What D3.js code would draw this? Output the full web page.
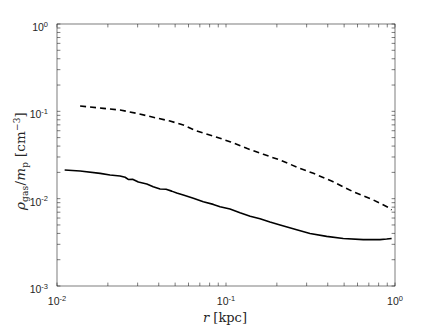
<!DOCTYPE html>
<html>
<head>
<meta charset="utf-8">
<script src="https://cdn.jsdelivr.net/npm/d3@7"></script>
<style>
  body { margin: 0; background: #fff; }
  svg { display: block; }
  .tick-label { font-family: "Liberation Sans", Arial, sans-serif; font-size: 10.5px; fill: #262626; }
  .axis-title { font-family: "DejaVu Serif", "Liberation Serif", serif; fill: #262626; }
</style>
</head>
<body>
<div id="chart"></div>
<script>
// radius in kpc, density in cm^-3
const solidR = [0.0111, 0.0137, 0.0180, 0.0206, 0.0236, 0.0253, 0.0264, 0.0280, 0.0303, 0.0340,
                0.0371, 0.0407, 0.0442, 0.0477, 0.0511, 0.0559, 0.0641, 0.0734, 0.0841, 0.0922,
                0.1056, 0.121, 0.139, 0.159, 0.182, 0.209, 0.262, 0.314, 0.394, 0.494,
                0.649, 0.815, 0.893, 0.955];
const solidRho = [0.0213, 0.0207, 0.0195, 0.0187, 0.0182, 0.0176, 0.0166, 0.0167, 0.0155, 0.0147,
                  0.0137, 0.0129, 0.0128, 0.0122, 0.0116, 0.0110, 0.0101, 0.0092, 0.0086, 0.0081,
                  0.0076, 0.0069, 0.0063, 0.0059, 0.0054, 0.0050, 0.0044, 0.0040, 0.0037, 0.0035,
                  0.0034, 0.0034, 0.00345, 0.0035];

const dashedR = [0.0137, 0.0188, 0.0236, 0.0296, 0.0371, 0.0466, 0.0559, 0.0671, 0.0841, 0.1056,
                 0.1326, 0.1663, 0.2087, 0.268, 0.329, 0.431, 0.566, 0.744, 0.934, 0.955];
const dashedRho = [0.115, 0.108, 0.1036, 0.0949, 0.0855, 0.0775, 0.0697, 0.0595, 0.0522, 0.0449,
                   0.0377, 0.0322, 0.0277, 0.0226, 0.0195, 0.0156, 0.0120, 0.00966, 0.00776, 0.00741];

const xMajor = [0.01, 0.1, 1];
const xMajorExp = ["-2", "-1", "0"];
const yMajor = [0.001, 0.01, 0.1, 1];
const yMajorExp = ["-3", "-2", "-1", "0"];

const W = 436, H = 327;
const margin = {top: 24, right: 41, bottom: 41, left: 57};
const width = W - margin.left - margin.right,
      height = H - margin.top - margin.bottom;

const svg = d3.select("#chart").append("svg")
  .attr("width", W).attr("height", H);

const g = svg.append("g")
  .attr("transform", `translate(${margin.left},${margin.top})`);

const x = d3.scaleLog().domain([0.01, 1]).range([0, width]);
const y = d3.scaleLog().domain([0.001, 1]).range([height, 0]);

// minor tick positions (2..9 in each decade)
const minorOf = (lo, hi) => {
  const out = [];
  for (let e = Math.log10(lo); e < Math.log10(hi); e++) {
    for (let k = 2; k <= 9; k++) out.push(k * Math.pow(10, e));
  }
  return out;
};
const xMinor = minorOf(0.01, 1);
const yMinor = minorOf(0.001, 1);

const axisColor = "#262626";
const tl = 3.4;

// data lines
const line = d3.line().x(d => x(d[0])).y(d => y(d[1]));
g.append("path")
  .datum(solidR.map((r, i) => [r, solidRho[i]]))
  .attr("d", line)
  .attr("fill", "none").attr("stroke", "#000").attr("stroke-width", 1.6)
  .attr("stroke-linejoin", "round");
g.append("path")
  .datum(dashedR.map((r, i) => [r, dashedRho[i]]))
  .attr("d", line)
  .attr("fill", "none").attr("stroke", "#000").attr("stroke-width", 1.6)
  .attr("stroke-dasharray", "6,4");

// box
g.append("rect")
  .attr("width", width).attr("height", height)
  .attr("fill", "none").attr("stroke", axisColor).attr("stroke-width", 0.6);

// ticks on all four sides, pointing inward
const ticks = g.append("g").attr("stroke", axisColor).attr("stroke-width", 0.6);
xMajor.concat(xMinor).forEach(v => {
  const px = x(v);
  ticks.append("line").attr("x1", px).attr("x2", px).attr("y1", height).attr("y2", height - tl);
  ticks.append("line").attr("x1", px).attr("x2", px).attr("y1", 0).attr("y2", tl);
});
yMajor.concat(yMinor).forEach(v => {
  const py = y(v);
  ticks.append("line").attr("y1", py).attr("y2", py).attr("x1", 0).attr("x2", tl);
  ticks.append("line").attr("y1", py).attr("y2", py).attr("x1", width).attr("x2", width - tl);
});

// tick labels
xMajor.forEach((v, i) => {
  const t = g.append("text").attr("class", "tick-label")
    .attr("x", x(v)).attr("y", height + 19).attr("text-anchor", "middle");
  t.append("tspan").text("10");
  t.append("tspan").attr("dy", -4.5).style("font-size", "7.5px").text(xMajorExp[i]);
});
yMajor.forEach((v, i) => {
  const t = g.append("text").attr("class", "tick-label")
    .attr("x", -9).attr("y", y(v) + 7).attr("text-anchor", "end");
  t.append("tspan").text("10");
  t.append("tspan").attr("dy", -4.5).style("font-size", "7.5px").text(yMajorExp[i]);
});

// axis titles
const xt = svg.append("text").attr("class", "axis-title")
  .style("font-size", "13px")
  .attr("x", margin.left + width / 2 - 1).attr("y", H - 5).attr("text-anchor", "middle");
xt.append("tspan").style("font-style", "italic").text("r");
xt.append("tspan").text(" [kpc]");

const yt = svg.append("text").attr("class", "axis-title")
  .style("font-size", "13.5px")
  .style("letter-spacing", "0.2px")
  .attr("transform", `translate(25,161) rotate(-90)`)
  .attr("text-anchor", "middle");
yt.append("tspan").style("font-style", "italic").text("ρ");
yt.append("tspan").attr("dy", 3).style("font-size", "9px").text("gas");
yt.append("tspan").attr("dy", -3).text("/");
yt.append("tspan").style("font-style", "italic").text("m");
yt.append("tspan").attr("dy", 3).style("font-size", "9px").text("p");
yt.append("tspan").attr("dy", -3).text(" [cm");
yt.append("tspan").attr("dy", -5).style("font-size", "9px").text("−3");
yt.append("tspan").attr("dy", 5).text("]");
</script>
</body>
</html>
